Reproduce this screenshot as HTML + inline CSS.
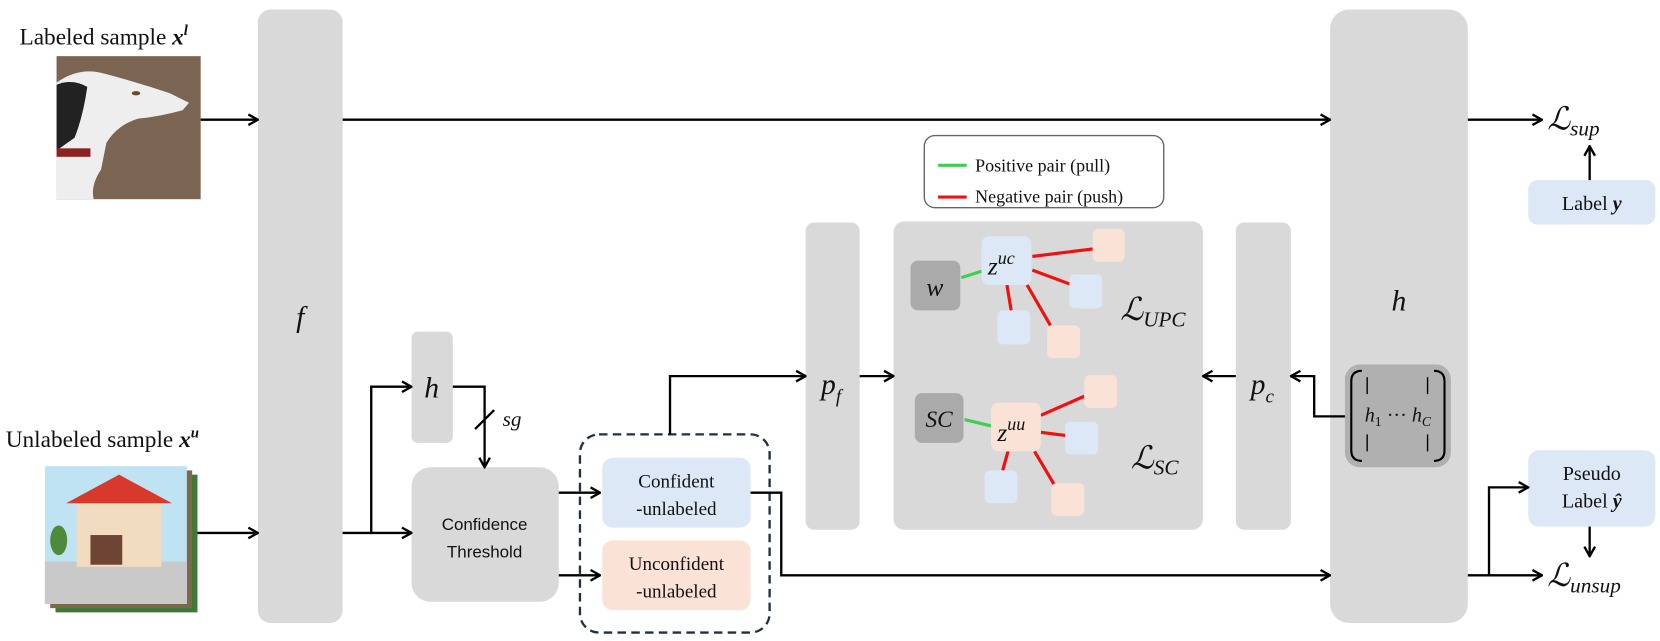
<!DOCTYPE html>
<html><head><meta charset="utf-8"><style>
html,body{margin:0;padding:0;background:#fff;}
svg{display:block}
text{font-family:"Liberation Serif",serif;fill:#111}
.m{font-style:italic}
.s{font-family:"Liberation Sans",sans-serif}
</style></head><body>
<svg width="1660" height="641" viewBox="0 0 1566 605" xmlns="http://www.w3.org/2000/svg">
<defs>
<marker id="a" viewBox="0 0 12 12" refX="11" refY="6" markerWidth="12" markerHeight="12" markerUnits="userSpaceOnUse" orient="auto">
<polyline points="2,1 11,6 2,11" fill="none" stroke="#000" stroke-width="2.2"/>
</marker>
</defs>
<!-- labeled -->
<text x="18" y="42" font-size="22">Labeled sample <tspan class="m" font-weight="bold">x</tspan><tspan class="m" font-weight="bold" font-size="14" dy="-9">l</tspan></text>
<rect x="53" y="53" width="136" height="135" fill="#7b6452"/>
<path d="M53 78 Q75 62 100 70 Q130 78 160 88 L178 97 L172 104 Q150 110 130 112 Q110 118 100 135 L95 160 Q85 175 88 188 L53 188Z" fill="#eeeeee"/>
<path d="M53 80 Q68 74 82 82 Q78 110 70 130 L53 142Z" fill="#222"/>
<ellipse cx="128" cy="88" rx="4" ry="2" fill="#6a4a2a"/>
<rect x="53" y="140" width="32" height="8" fill="#8a2222"/>
<!-- unlabeled -->
<text x="5" y="422" font-size="22">Unlabeled sample <tspan class="m" font-weight="bold">x</tspan><tspan class="m" font-weight="bold" font-size="14" dy="-9">u</tspan></text>
<rect x="52" y="448" width="134" height="130" fill="#3d7a3a"/>
<rect x="47" y="444" width="134" height="130" fill="#7a6a4a"/>
<rect x="42" y="440" width="134" height="130" fill="#bfe3f2"/>
<rect x="42" y="530" width="134" height="40" fill="#c9c9c9"/>
<rect x="72" y="470" width="80" height="65" fill="#f1dcc0"/>
<polygon points="62,475 112,448 162,475" fill="#d8392c"/>
<rect x="85" y="505" width="30" height="28" fill="#6e4434"/>
<ellipse cx="55" cy="510" rx="8" ry="14" fill="#4d8a3a"/>
<!-- blocks -->
<rect x="243" y="9" width="80" height="579" rx="12" fill="#d9d9d9"/>
<text x="283" y="308" font-size="28" class="m" text-anchor="middle">f</text>
<rect x="1255" y="9" width="130" height="579" rx="18" fill="#d9d9d9"/>
<text x="1320" y="293" font-size="28" class="m" text-anchor="middle">h</text>
<rect x="388" y="313" width="39" height="105" rx="6" fill="#d9d9d9"/>
<text x="407" y="375" font-size="28" class="m" text-anchor="middle">h</text>
<rect x="388" y="441" width="139" height="127" rx="18" fill="#d9d9d9"/>
<text class="s" x="457" y="500" font-size="16" text-anchor="middle">Confidence</text>
<text class="s" x="457" y="526" font-size="16" text-anchor="middle">Threshold</text>
<rect x="547" y="410" width="179" height="187" rx="18" fill="none" stroke="#1f3040" stroke-width="2.2" stroke-dasharray="8,5"/>
<rect x="568" y="432" width="140" height="66" rx="10" fill="#dce8f5"/>
<text x="638" y="460" font-size="18" text-anchor="middle">Confident</text>
<text x="638" y="486" font-size="18" text-anchor="middle">-unlabeled</text>
<rect x="568" y="510" width="140" height="66" rx="10" fill="#fbe2d6"/>
<text x="638" y="538" font-size="18" text-anchor="middle">Unconfident</text>
<text x="638" y="564" font-size="18" text-anchor="middle">-unlabeled</text>
<rect x="760" y="210" width="51" height="290" rx="8" fill="#d9d9d9"/>
<text x="784" y="372" font-size="28" class="m" text-anchor="middle">p<tspan font-size="18" dy="8">f</tspan></text>
<rect x="843" y="209" width="292" height="291" rx="10" fill="#d9d9d9"/>
<rect x="1166" y="210" width="52" height="290" rx="8" fill="#d9d9d9"/>
<text x="1191" y="372" font-size="28" class="m" text-anchor="middle">p<tspan font-size="18" dy="8">c</tspan></text>
<!-- legend -->
<rect x="872" y="128" width="226" height="68" rx="10" fill="#fff" stroke="#666" stroke-width="1.3"/>
<line x1="885" y1="156" x2="912" y2="156" stroke="#3fcf4f" stroke-width="3"/>
<line x1="885" y1="186" x2="912" y2="186" stroke="#f01010" stroke-width="3"/>
<text x="920" y="162" font-size="17">Positive pair (pull)</text>
<text x="920" y="191" font-size="17">Negative pair (push)</text>
<!-- graph -->
<g stroke-width="3">
<line x1="907" y1="262" x2="926" y2="256" stroke="#3fcf4f"/>
<g stroke="#f01010">
<line x1="974" y1="242" x2="1031" y2="235"/><line x1="974" y1="255" x2="1009" y2="268"/>
<line x1="950" y1="269" x2="954" y2="293"/><line x1="969" y1="269" x2="991" y2="307"/>
<line x1="982" y1="392" x2="1023" y2="374"/><line x1="982" y1="408" x2="1005" y2="411"/>
<line x1="951" y1="426" x2="946" y2="444"/><line x1="976" y1="426" x2="998" y2="463"/>
</g>
<line x1="910" y1="396" x2="935" y2="402" stroke="#3fcf4f"/>
</g>
<rect x="859" y="246" width="47" height="47" rx="7" fill="#aaaaaa"/>
<text x="882" y="279" font-size="24" class="m" text-anchor="middle">w</text>
<rect x="926" y="223" width="47" height="46" rx="7" fill="#dce8f5"/>
<text x="932" y="259" font-size="24" class="m">z<tspan font-size="17" dy="-10">uc</tspan></text>
<rect x="1031" y="216" width="30" height="31" rx="5" fill="#fbe2d6"/>
<rect x="1009" y="259" width="31" height="32" rx="5" fill="#dce8f5"/>
<rect x="941" y="293" width="31" height="32" rx="5" fill="#dce8f5"/>
<rect x="988" y="307" width="31" height="31" rx="5" fill="#fbe2d6"/>
<text x="1057" y="302" font-size="30" class="m">ℒ<tspan font-size="20" dy="6">UPC</tspan></text>
<rect x="863" y="371" width="46" height="47" rx="7" fill="#aaaaaa"/>
<text x="886" y="403" font-size="22" class="m" text-anchor="middle">SC</text>
<rect x="935" y="380" width="47" height="46" rx="7" fill="#fbe2d6"/>
<text x="941" y="416" font-size="24" class="m">z<tspan font-size="17" dy="-10">uu</tspan></text>
<rect x="1023" y="354" width="31" height="31" rx="5" fill="#fbe2d6"/>
<rect x="1005" y="398" width="31" height="31" rx="5" fill="#dce8f5"/>
<rect x="929" y="444" width="31" height="31" rx="5" fill="#dce8f5"/>
<rect x="992" y="456" width="31" height="31" rx="5" fill="#fbe2d6"/>
<text x="1067" y="442" font-size="30" class="m">ℒ<tspan font-size="20" dy="6">SC</tspan></text>
<!-- matrix -->
<rect x="1269" y="344" width="100" height="97" rx="14" fill="#b0b0b0"/>
<path d="M1285 350 Q1275 350 1275 360 L1275 425 Q1275 435 1285 435" fill="none" stroke="#000" stroke-width="2"/>
<path d="M1353 350 Q1363 350 1363 360 L1363 425 Q1363 435 1353 435" fill="none" stroke="#000" stroke-width="2"/>
<line x1="1290" y1="356" x2="1290" y2="372" stroke="#000" stroke-width="1.3"/>
<line x1="1347" y1="356" x2="1347" y2="372" stroke="#000" stroke-width="1.3"/>
<line x1="1290" y1="410" x2="1290" y2="426" stroke="#000" stroke-width="1.3"/>
<line x1="1347" y1="410" x2="1347" y2="426" stroke="#000" stroke-width="1.3"/>
<text x="1319" y="398" font-size="19" class="m" text-anchor="middle">h<tspan font-size="13" dy="4" font-style="normal">1</tspan><tspan dy="-4" font-style="normal"> ··· </tspan>h<tspan font-size="13" dy="4">C</tspan></text>
<!-- right outputs -->
<text x="1460" y="122" font-size="30" class="m">ℒ<tspan font-size="20" dy="6">sup</tspan></text>
<rect x="1442" y="170" width="120" height="42" rx="9" fill="#dce8f5"/>
<text x="1502" y="198" font-size="19" text-anchor="middle">Label <tspan font-weight="bold" class="m">y</tspan></text>
<rect x="1442" y="425" width="120" height="72" rx="10" fill="#dce8f5"/>
<text x="1502" y="453" font-size="19" text-anchor="middle">Pseudo</text>
<text x="1502" y="479" font-size="19" text-anchor="middle">Label <tspan font-weight="bold" class="m">ŷ</tspan></text>
<text x="1460" y="553" font-size="30" class="m">ℒ<tspan font-size="20" dy="6">unsup</tspan></text>
<!-- connectors -->
<g fill="none" stroke="#000" stroke-width="2.2">
<line x1="189" y1="113" x2="243" y2="113" marker-end="url(#a)"/>
<line x1="323" y1="113" x2="1255" y2="113" marker-end="url(#a)"/>
<line x1="1385" y1="113" x2="1455" y2="113" marker-end="url(#a)"/>
<line x1="1500" y1="170" x2="1500" y2="138" marker-end="url(#a)"/>
<line x1="186" y1="503" x2="243" y2="503" marker-end="url(#a)"/>
<polyline points="323,503 350,503 350,365 388,365" marker-end="url(#a)"/>
<line x1="350" y1="503" x2="388" y2="503" marker-end="url(#a)"/>
<polyline points="427,365 457,365 457,441" marker-end="url(#a)"/>
<line x1="448" y1="405" x2="466" y2="387"/>
<line x1="527" y1="465" x2="566" y2="465" marker-end="url(#a)"/>
<line x1="527" y1="543" x2="566" y2="543" marker-end="url(#a)"/>
<polyline points="632,410 632,355 760,355" marker-end="url(#a)"/>
<polyline points="708,465 737,465 737,543 1255,543" marker-end="url(#a)"/>
<line x1="811" y1="355" x2="843" y2="355" marker-end="url(#a)"/>
<line x1="1166" y1="355" x2="1135" y2="355" marker-end="url(#a)"/>
<polyline points="1269,393 1240,393 1240,355 1218,355" marker-end="url(#a)"/>
<polyline points="1385,543 1405,543 1405,460 1442,460" marker-end="url(#a)"/>
<line x1="1405" y1="543" x2="1455" y2="543" marker-end="url(#a)"/>
<line x1="1500" y1="497" x2="1500" y2="525" marker-end="url(#a)"/>
</g>
<text x="474" y="402" font-size="20" class="m">sg</text>
</svg>
</body></html>
